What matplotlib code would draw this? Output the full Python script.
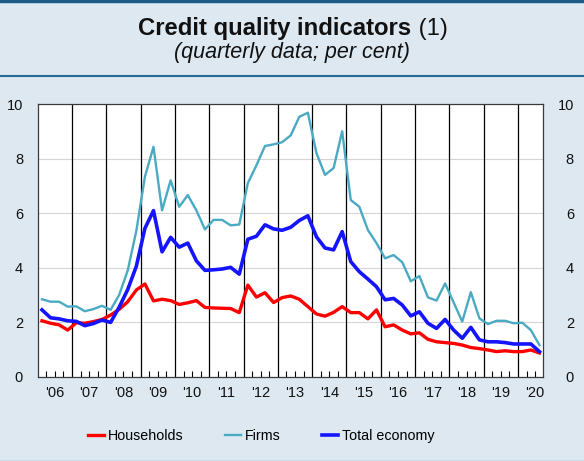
import numpy as np
import pandas as pd
import matplotlib
matplotlib.use("Agg")
import matplotlib.pyplot as plt
import matplotlib.transforms as mtransforms
from matplotlib.lines import Line2D

plt.rcParams['font.family'] = ['Liberation Sans', 'DejaVu Sans']

# quarterly data, 2006Q1 - 2020Q3 (per cent)
quarters = pd.period_range('2006Q1', '2020Q3', freq='Q')

households = [2.05, 1.96, 1.90, 1.71, 1.98, 1.96, 2.02, 2.10,
              2.26, 2.47, 2.75, 3.18, 3.40, 2.78, 2.84, 2.79,
              2.65, 2.71, 2.79, 2.54, 2.52, 2.51, 2.50, 2.35,
              3.36, 2.92, 3.08, 2.72, 2.90, 2.96, 2.84, 2.57,
              2.30, 2.22, 2.36, 2.57, 2.35, 2.35, 2.12, 2.45,
              1.83, 1.90, 1.71, 1.57, 1.61, 1.37, 1.28, 1.25,
              1.22, 1.16, 1.07, 1.03, 0.98, 0.92, 0.95, 0.92,
              0.92, 0.98, 0.87]

firms = [2.84, 2.75, 2.75, 2.57, 2.58, 2.40, 2.48, 2.60,
         2.45, 3.00, 3.90, 5.35, 7.33, 8.43, 6.10, 7.20,
         6.23, 6.66, 6.10, 5.40, 5.75, 5.75, 5.55, 5.58,
         7.10, 7.75, 8.46, 8.52, 8.60, 8.85, 9.53, 9.68,
         8.20, 7.40, 7.65, 9.00, 6.48, 6.23, 5.38, 4.90,
         4.34, 4.46, 4.20, 3.50, 3.69, 2.91, 2.79, 3.42,
         2.72, 2.02, 3.10, 2.14, 1.93, 2.05, 2.05, 1.96,
         1.98, 1.71, 1.16]

total = [2.45, 2.16, 2.12, 2.05, 2.03, 1.87, 1.95, 2.08,
         1.99, 2.55, 3.20, 4.05, 5.44, 6.09, 4.58, 5.11,
         4.75, 4.90, 4.25, 3.90, 3.92, 3.95, 4.01, 3.76,
         5.04, 5.15, 5.57, 5.42, 5.37, 5.48, 5.73, 5.90,
         5.13, 4.72, 4.65, 5.32, 4.22, 3.85, 3.58, 3.30,
         2.82, 2.87, 2.63, 2.23, 2.38, 1.96, 1.77, 2.10,
         1.71, 1.41, 1.81, 1.35, 1.28, 1.28, 1.25, 1.20,
         1.20, 1.20, 0.92]

years = list(range(2006, 2021))
year_labels = ["'" + str(y)[2:] for y in years]

# quarter midpoints on a decimal-year axis
x = quarters.year + (quarters.quarter - 0.5) / 4

bg = '#dde8f1'
fig = plt.figure(figsize=(5.84, 4.61), dpi=100, facecolor=bg)
ax = fig.add_axes([37.7 / 584, 1 - 376.7 / 461, 505 / 584, 272.7 / 461])
ax.set_facecolor('white')

ax.set_xlim(2006, 2020.72)
ax.set_ylim(0, 10)

# horizontal grid
for v in [2, 4, 6, 8]:
    ax.axhline(v, color='#d4d4d4', lw=0.8, zorder=1)
# year separators
for y in years[1:]:
    ax.axvline(y, color='black', lw=0.9, zorder=2)

ax.plot(x, firms, color='#4aaac4', lw=1.7, zorder=3)
ax.plot(x, households, color='#ff0000', lw=2.4, zorder=4)
ax.plot(x, total, color='#1414ff', lw=2.6, zorder=5)

for s in ax.spines.values():
    s.set_color('#3a3a3a')
    s.set_linewidth(0.9)

# y axis labels on both sides, right-aligned
ax.set_yticks(range(0, 11, 2))
ax.tick_params(axis='y', length=0, labelsize=10.5, colors='#111111',
               labelleft=True, labelright=True, pad=10.5)
off = mtransforms.ScaledTranslation(12 / 72, 0, fig.dpi_scale_trans)
for t in ax.yaxis.get_major_ticks():
    t.label2.set_horizontalalignment('right')
    t.label2.set_transform(t.label2.get_transform() + off)

# x axis: quarter ticks inside, year labels centred
ax.xaxis.remove_overlapping_locs = False
qticks = [y + q / 4 for y in years for q in range(1, 4) if y + q / 4 < 2020.72]
ax.set_xticks(qticks)
ax.set_xticklabels([])
ax.tick_params(axis='x', which='major', direction='in', length=4, width=0.8,
               color='black')
ax.set_xticks([y + 0.5 for y in years], minor=True)
ax.set_xticklabels(year_labels, minor=True)
ax.tick_params(axis='x', which='minor', length=0, pad=7, labelsize=10.5,
               colors='#111111')

# title
fig.text(0.704, 1 - 29 / 461, 'Credit quality indicators', ha='right', va='center',
         fontsize=17.2, fontweight='bold', color='#111111')
fig.text(0.705, 1 - 29 / 461, ' (1)', ha='left', va='center',
         fontsize=17.2, color='#111111')
fig.text(0.5, 1 - 52.5 / 461, '(quarterly data; per cent)', ha='center', va='center',
         fontsize=15.5, style='italic', color='#111111')

# frame lines
fig.add_artist(Line2D([0, 1], [1 - 1.5 / 461] * 2, transform=fig.transFigure,
                      color='#1d5c88', lw=2.5))
fig.add_artist(Line2D([0, 1], [1 - 76 / 461] * 2, transform=fig.transFigure,
                      color='#2a6b93', lw=1.5))
fig.add_artist(Line2D([0, 1], [0.5 / 461] * 2, transform=fig.transFigure,
                      color='#86adc6', lw=1))

handles = [Line2D([], [], color='#ff0000', lw=2.4),
           Line2D([], [], color='#4aaac4', lw=1.7),
           Line2D([], [], color='#1414ff', lw=2.6)]
fig.legend(handles, ['Households', 'Firms', 'Total economy'], loc='center',
           bbox_to_anchor=(261 / 584, 1 - 436 / 461), ncol=3, frameon=False,
           fontsize=10.3, handlelength=1.15, handletextpad=0.25,
           columnspacing=2.9)

fig.savefig('out.png', dpi=100, facecolor=bg)
